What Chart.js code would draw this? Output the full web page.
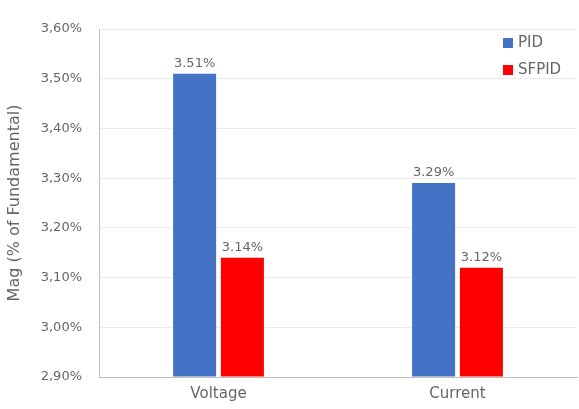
<!DOCTYPE html>
<html>
<head>
<meta charset="utf-8">
<script src="https://cdn.jsdelivr.net/npm/chart.js@4.4.1/dist/chart.umd.min.js"></script>
<style>
  html, body { margin: 0; padding: 0; background: #ffffff; }
  #wrap { width: 579px; height: 409px; position: relative; }
</style>
</head>
<body>
<div id="wrap"><canvas id="c"></canvas></div>
<script>
// Harmonic magnitude per signal, in % of fundamental
const categories = ['Voltage', 'Current'];
const pidValues = [3.51, 3.29];
const sfpidValues = [3.14, 3.12];
const seriesNames = ['PID', 'SFPID'];
const yTicks = [2.9, 3.0, 3.1, 3.2, 3.3, 3.4, 3.5, 3.6];

const FONT = "'DejaVu Sans', sans-serif";
const TEXT = '#666666';

const fmtComma = v => v.toFixed(2).replace('.', ',') + '%';
const fmtDot = v => v.toFixed(2) + '%';

// Value labels above each bar
const valueLabels = {
  id: 'valueLabels',
  afterDatasetsDraw(chart) {
    const ctx = chart.ctx;
    ctx.save();
    ctx.font = '13px ' + FONT;
    ctx.fillStyle = TEXT;
    ctx.textAlign = 'center';
    ctx.textBaseline = 'bottom';
    chart.data.datasets.forEach((ds, i) => {
      chart.getDatasetMeta(i).data.forEach((bar, j) => {
        ctx.fillText(fmtDot(ds.data[j]), bar.x, bar.y - 4);
      });
    });
    ctx.restore();
  }
};

// Vertical legend in the upper right of the plot
const sideLegend = {
  id: 'sideLegend',
  afterDraw(chart) {
    const ctx = chart.ctx;
    ctx.save();
    ctx.font = '15px ' + FONT;
    ctx.textBaseline = 'middle';
    ctx.textAlign = 'left';
    chart.data.datasets.forEach((ds, i) => {
      const y = 43 + i * 27;
      const x = 503;
      ctx.fillStyle = ds.backgroundColor;
      ctx.fillRect(x, y - 5, 10, 10);
      ctx.fillStyle = TEXT;
      ctx.fillText(ds.label, x + 15, y);
    });
    ctx.restore();
  }
};

new Chart(document.getElementById('c'), {
  type: 'bar',
  data: {
    labels: categories,
    datasets: [
      { label: seriesNames[0], data: pidValues, backgroundColor: '#4472C4' },
      { label: seriesNames[1], data: sfpidValues, backgroundColor: '#FF0000' }
    ]
  },
  options: {
    responsive: true,
    maintainAspectRatio: false,
    animation: false,
    layout: { padding: { top: 29, right: 2, left: 0, bottom: 0 } },
    plugins: {
      legend: { display: false },
      tooltip: { enabled: false }
    },
    datasets: {
      bar: { categoryPercentage: 0.4, barPercentage: 0.9, base: 2.9 }
    },
    scales: {
      x: {
        grid: { display: false, drawTicks: false },
        border: { color: '#bfbfbf', width: 1 },
        ticks: { color: TEXT, font: { family: FONT, size: 15 }, padding: 8 },
        afterFit(s) { s.height = 32; }
      },
      y: {
        min: 2.9,
        max: 3.6,
        afterBuildTicks(s) { s.ticks = yTicks.map(v => ({ value: v })); },
        grid: { color: '#ececec', drawTicks: false },
        border: { color: '#bfbfbf', width: 1 },
        ticks: {
          color: TEXT,
          font: { family: FONT, size: 13 },
          padding: 17,
          callback: v => fmtComma(v)
        },
        title: {
          display: true,
          text: 'Mag (% of Fundamental)',
          color: TEXT,
          font: { family: FONT, size: 16 },
          padding: { top: 5, bottom: 0 }
        },
        afterFit(s) { s.width = 99; }
      }
    }
  },
  plugins: [valueLabels, sideLegend]
});
</script>
</body>
</html>
